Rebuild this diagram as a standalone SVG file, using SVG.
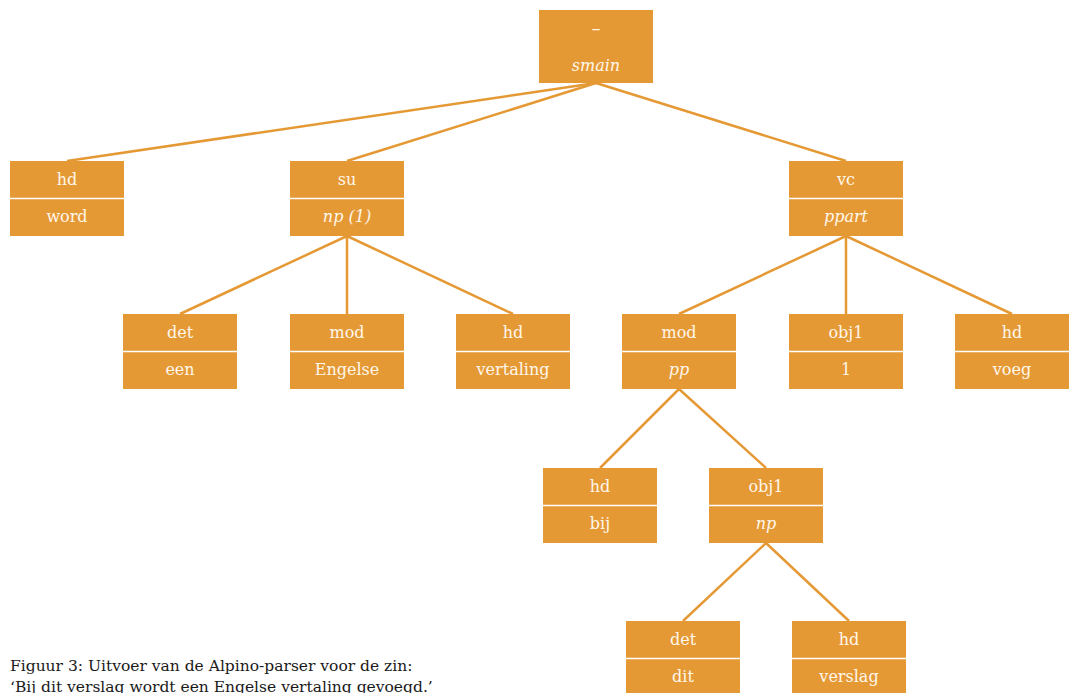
<svg xmlns="http://www.w3.org/2000/svg" width="1072" height="693" viewBox="0 0 1072 693">
<style>
.box{fill:#E59935}
.div{stroke:#FFFFFF;stroke-width:1.5}
.t{font-family:"DejaVu Serif","Liberation Serif",serif;font-size:16px;fill:#FFF7EA;text-anchor:middle}
.i{font-style:italic}
.edge{stroke:#E59935;stroke-width:2.5;fill:none}
.cap{font-family:"DejaVu Serif","Liberation Serif",serif;font-size:15.5px;fill:#1a1a1a}
</style>
<rect width="1072" height="693" fill="#FFFFFF"/>
<g id="connectors">
<line class="edge" x1="596" y1="83" x2="67" y2="161"/>
<line class="edge" x1="596" y1="83" x2="347" y2="161"/>
<line class="edge" x1="596" y1="83" x2="846" y2="161"/>
<line class="edge" x1="347" y1="236" x2="180" y2="314"/>
<line class="edge" x1="347" y1="236" x2="347" y2="314"/>
<line class="edge" x1="347" y1="236" x2="513" y2="314"/>
<line class="edge" x1="846" y1="236" x2="679" y2="314"/>
<line class="edge" x1="846" y1="236" x2="846" y2="314"/>
<line class="edge" x1="846" y1="236" x2="1012" y2="314"/>
<line class="edge" x1="679" y1="389" x2="600" y2="468"/>
<line class="edge" x1="679" y1="389" x2="766" y2="468"/>
<line class="edge" x1="766" y1="543" x2="683" y2="621"/>
<line class="edge" x1="766" y1="543" x2="849" y2="621"/>
</g>
<g id="n-root">
<rect class="box" x="539" y="10" width="114" height="73"/>
<text class="t" x="596" y="35" style="font-size:18px">–</text>
<text class="t i" x="596" y="71">smain</text>
</g>
<g id="n-hd-word" transform="translate(10,161)">
<rect class="box" width="114" height="75"/><line class="div" x1="0" y1="37.5" x2="114" y2="37.5"/>
<text class="t" x="57" y="24">hd</text><text class="t" x="57" y="61">word</text>
</g>
<g id="n-su" transform="translate(290,161)">
<rect class="box" width="114" height="75"/><line class="div" x1="0" y1="37.5" x2="114" y2="37.5"/>
<text class="t" x="57" y="24">su</text><text class="t i" x="57" y="61">np (1)</text>
</g>
<g id="n-vc" transform="translate(789,161)">
<rect class="box" width="114" height="75"/><line class="div" x1="0" y1="37.5" x2="114" y2="37.5"/>
<text class="t" x="57" y="24">vc</text><text class="t i" x="57" y="61">ppart</text>
</g>
<g id="n-det-een" transform="translate(123,314)">
<rect class="box" width="114" height="75"/><line class="div" x1="0" y1="37.5" x2="114" y2="37.5"/>
<text class="t" x="57" y="24">det</text><text class="t" x="57" y="61">een</text>
</g>
<g id="n-mod-engelse" transform="translate(290,314)">
<rect class="box" width="114" height="75"/><line class="div" x1="0" y1="37.5" x2="114" y2="37.5"/>
<text class="t" x="57" y="24">mod</text><text class="t" x="57" y="61">Engelse</text>
</g>
<g id="n-hd-vertaling" transform="translate(456,314)">
<rect class="box" width="114" height="75"/><line class="div" x1="0" y1="37.5" x2="114" y2="37.5"/>
<text class="t" x="57" y="24">hd</text><text class="t" x="57" y="61">vertaling</text>
</g>
<g id="n-mod-pp" transform="translate(622,314)">
<rect class="box" width="114" height="75"/><line class="div" x1="0" y1="37.5" x2="114" y2="37.5"/>
<text class="t" x="57" y="24">mod</text><text class="t i" x="57" y="61">pp</text>
</g>
<g id="n-obj1-1" transform="translate(789,314)">
<rect class="box" width="114" height="75"/><line class="div" x1="0" y1="37.5" x2="114" y2="37.5"/>
<text class="t" x="57" y="24">obj1</text><text class="t" x="57" y="61">1</text>
</g>
<g id="n-hd-voeg" transform="translate(955,314)">
<rect class="box" width="114" height="75"/><line class="div" x1="0" y1="37.5" x2="114" y2="37.5"/>
<text class="t" x="57" y="24">hd</text><text class="t" x="57" y="61">voeg</text>
</g>
<g id="n-hd-bij" transform="translate(543,468)">
<rect class="box" width="114" height="75"/><line class="div" x1="0" y1="37.5" x2="114" y2="37.5"/>
<text class="t" x="57" y="24">hd</text><text class="t" x="57" y="61">bij</text>
</g>
<g id="n-obj1-np" transform="translate(709,468)">
<rect class="box" width="114" height="75"/><line class="div" x1="0" y1="37.5" x2="114" y2="37.5"/>
<text class="t" x="57" y="24">obj1</text><text class="t i" x="57" y="61">np</text>
</g>
<g id="n-det-dit" transform="translate(626,621)">
<rect class="box" width="114" height="75"/><line class="div" x1="0" y1="37.5" x2="114" y2="37.5"/>
<text class="t" x="57" y="24">det</text><text class="t" x="57" y="61">dit</text>
</g>
<g id="n-hd-verslag" transform="translate(792,621)">
<rect class="box" width="114" height="75"/><line class="div" x1="0" y1="37.5" x2="114" y2="37.5"/>
<text class="t" x="57" y="24">hd</text><text class="t" x="57" y="61">verslag</text>
</g>
<g id="caption">
<text class="cap" x="10" y="671">Figuur 3: Uitvoer van de Alpino-parser voor de zin:</text>
<text class="cap" x="10" y="692">‘Bij dit verslag wordt een Engelse vertaling gevoegd.’</text>
</g>
</svg>
